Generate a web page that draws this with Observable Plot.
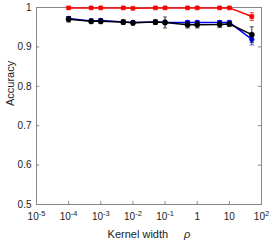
<!DOCTYPE html>
<html><head>
<meta charset="utf-8">
<script src="https://cdn.jsdelivr.net/npm/d3@7"></script>
<script src="https://cdn.jsdelivr.net/npm/@observablehq/plot@0.6"></script>
<style>body{margin:0;background:#fff;} svg{font-family:"Liberation Sans",Arial,sans-serif;}</style>
</head><body><div id="chart"></div>
<script>
const rho = [1e-4, 5e-4, 1e-3, 5e-3, 1e-2, 5e-2, 0.1, 0.5, 1, 5, 10, 50];
const redAcc = [0.999, 0.999, 0.999, 0.999, 0.998, 0.999, 0.999, 0.999, 0.999, 0.999, 0.999, 0.977];
const redErr = [0.001, 0.001, 0.001, 0.001, 0.001, 0.001, 0.001, 0.001, 0.001, 0.001, 0.001, 0.010];
const blueAcc = [0.972, 0.966, 0.967, 0.963, 0.962, 0.963, 0.962, 0.962, 0.962, 0.962, 0.962, 0.919];
const blueErr = [0.005, 0.004, 0.004, 0.004, 0.004, 0.004, 0.006, 0.005, 0.005, 0.005, 0.004, 0.014];
const blackAcc = [0.970, 0.965, 0.965, 0.963, 0.961, 0.963, 0.962, 0.956, 0.956, 0.957, 0.958, 0.931];
const blackErr = [0.007, 0.006, 0.006, 0.006, 0.006, 0.006, 0.014, 0.008, 0.008, 0.008, 0.006, 0.020];
const xTicks = [1e-5, 1e-4, 1e-3, 1e-2, 1e-1, 1, 10, 100];
const xTickLabels = ["10^-5", "10^-4", "10^-3", "10^-2", "10^-1", "1", "10", "10^2"];
const yTicks = [0.5, 0.6, 0.7, 0.8, 0.9, 1];
const yTickLabels = ["0.5", "0.6", "0.7", "0.8", "0.9", "1"];
const xLabel = "Kernel width ρ";
const yLabel = "Accuracy";

const mk = (acc, err) => rho.map((x, i) => ({x, y: acc[i], lo: acc[i] - err[i], hi: acc[i] + err[i]}));
const red = mk(redAcc, redErr), blue = mk(blueAcc, blueErr), black = mk(blackAcc, blackErr);
const axisColor = "#888";

function series(data, color, symbol, r) {
  return [
    Plot.link(data, {x1: "x", x2: "x", y1: "lo", y2: "hi", stroke: color, strokeWidth: 0.8, markerStart: "tick", markerEnd: "tick"}),
    Plot.line(data, {x: "x", y: "y", stroke: color, strokeWidth: 1.5}),
    Plot.dot(data, {x: "x", y: "y", fill: color, stroke: color, strokeWidth: 0.5, symbol, r})
  ];
}

const chart = Plot.plot({
  width: 273, height: 245,
  marginLeft: 36, marginRight: 12, marginTop: 7, marginBottom: 41,
  style: {fontSize: "10px", fontFamily: "Liberation Sans, Arial, sans-serif", color: "#222"},
  x: {type: "log", domain: [1e-5, 100]},
  y: {domain: [0.5, 1]},
  marks: [
    Plot.frame({stroke: axisColor}),
    Plot.ruleX(xTicks, {x: d => d, y1: 0.5, y2: 0.5075, stroke: axisColor}),
    Plot.ruleX(xTicks, {x: d => d, y1: 0.9925, y2: 1, stroke: axisColor}),
    Plot.ruleY(yTicks, {y: d => d, x1: 1e-5, x2: 1.26e-5, stroke: axisColor}),
    Plot.ruleY(yTicks, {y: d => d, x1: 100 / 1.26, x2: 100, stroke: axisColor}),
    Plot.axisX(xTicks, {tickSize: 0, tickPadding: 8, tickFormat: d => xTickLabels[xTicks.indexOf(d)], label: null, fill: "#222"}),
    Plot.axisY(yTicks, {tickSize: 0, tickPadding: 5, tickFormat: d => yTickLabels[yTicks.indexOf(d)], label: null, fill: "#222"}),
    ...series(red, "#ff0000", "square", 2.3),
    ...series(blue, "#0000ff", "circle", 2.4),
    ...series(black, "#000000", "circle", 2.6),
    Plot.text([xLabel], {frameAnchor: "bottom", dy: 33, text: d => d, fontSize: 11, fill: "#222"}),
    Plot.text([yLabel], {frameAnchor: "left", dx: -26, rotate: -90, text: d => d, fontSize: 11, fill: "#222"})
  ]
});
document.getElementById("chart").appendChild(chart);
// raised exponents on x tick labels
d3.select(chart).selectAll("text").filter(function() { return this.textContent.includes("^"); }).each(function() {
  const [base, exp] = this.textContent.split("^");
  const t = d3.select(this);
  t.text(null);
  t.append("tspan").text(base);
  t.append("tspan").attr("dy", "-0.5em").attr("font-size", "7.5px").text(exp);
});
// italic rho in x label, with a wider gap
d3.select(chart).selectAll("text").filter(function() { return this.textContent === xLabel; }).each(function() {
  const t = d3.select(this);
  const parts = xLabel.split(" ρ");
  t.text(null);
  t.append("tspan").text(parts[0]);
  t.append("tspan").attr("dx", "16").attr("font-style", "italic").text("ρ");
});
</script>
</body></html>
